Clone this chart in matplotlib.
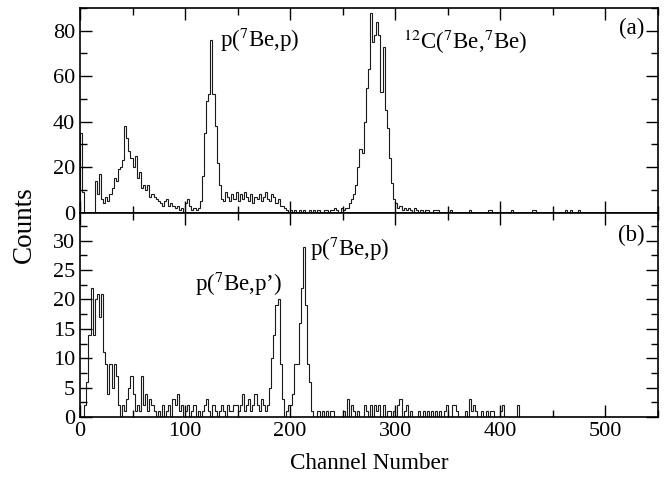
import numpy as np
import matplotlib.pyplot as plt
from matplotlib.ticker import MultipleLocator

plt.rcParams['font.family'] = ['Liberation Serif', 'DejaVu Serif']
plt.rcParams['mathtext.fontset'] = 'stix'

# channel bins are 2 channels wide, spectra go out to channel 550
bin_width = 2
n_bins = 275

# (a) dense part, channels 0-329
counts_a_low = [
    35, 9, 0, 0, 0,   0, 0, 14, 8, 17,
    6, 4, 7, 5, 8,    11, 15, 14, 19, 20,
    23, 38, 33, 27, 24,   20, 25, 15, 18, 11,
    12, 10, 12, 7, 8,   7, 6, 5, 4, 3,
    5, 6, 3, 4, 3,    2, 3, 1, 2, 0,
    4, 6, 3, 1, 2,    1, 2, 5, 16, 35,
    49, 52, 76, 52, 38,   22, 12, 6, 5, 9,
    7, 5, 8, 6, 9,    5, 8, 6, 9, 7,
    5, 8, 4, 7, 6,    8, 5, 7, 9, 6,
    5, 8, 7, 4, 6,    3, 3, 2, 1, 0,
    1, 0, 1, 0, 1,    0, 1, 0, 0, 1,
    0, 1, 0, 1, 0,    0, 1, 1, 0, 1,
    1, 2, 1, 0, 2,    1, 2, 2, 4, 6,
    8, 12, 20, 28, 26,   40, 55, 63, 88, 75,
    78, 84, 78, 53, 73,   45, 37, 24, 13, 6,
    4, 2, 3, 1, 2,    1, 2, 1, 0, 2,
    1, 0, 1, 0, 1,
]
# (a) sparse tail
tail_a_chan = [330, 336, 338, 340, 352, 370, 388, 390, 410, 430, 432, 462, 466, 474]
tail_a_cnt = [1, 1, 1, 1, 1, 1, 1, 1, 1, 1, 1, 1, 1, 1]

# (b) dense part, channels 0-239
counts_b_low = [
    0, 0, 2, 6, 14,   22, 14, 20, 21, 17,
    21, 11, 9, 4, 9,   5, 9, 7, 2, 0,
    2, 1, 3, 5, 7,    4, 1, 2, 1, 7,
    2, 4, 1, 3, 2,    1, 0, 1, 0, 2,
    0, 1, 2, 0, 3,    2, 4, 1, 2, 0,
    1, 2, 0, 1, 2,    0, 1, 0, 1, 2,
    3, 1, 0, 2, 1,    0, 1, 2, 1, 0,
    2, 1, 1, 2, 2,    1, 2, 4, 1, 2,
    3, 1, 2, 4, 2,    1, 3, 2, 1, 2,
    5, 10, 14, 19, 20,   9, 3, 0, 1, 2,
    2, 4, 9, 9, 16,   22, 29, 19, 9, 6,
    1, 0, 0, 1, 0,    1, 0, 1, 0, 1,
]
# (b) sparse tail
tail_b_chan = [240, 250, 254, 258, 260, 264, 270, 272, 276, 280, 282, 284, 288, 292,
               294, 298, 302, 304, 308, 310, 314, 322, 326, 330, 334, 338, 342, 346,
               348, 354, 356, 358, 366, 370, 372, 374, 376, 382, 386, 390, 392, 400,
               402, 416]
tail_b_cnt = [1, 1, 3, 2, 1, 1, 2, 1, 2, 2, 1, 2, 2, 1,
              1, 1, 2, 3, 1, 2, 1, 1, 1, 1, 1, 1, 1, 1,
              2, 2, 2, 1, 1, 3, 1, 2, 1, 1, 1, 1, 1, 1,
              2, 2]


def build(low, tail_chan, tail_cnt):
    h = np.zeros(n_bins)
    h[:len(low)] = low
    for c, n in zip(tail_chan, tail_cnt):
        h[c // bin_width] = n
    return h


edges = np.arange(n_bins + 1) * bin_width
hist_a = build(counts_a_low, tail_a_chan, tail_a_cnt)
hist_b = build(counts_b_low, tail_b_chan, tail_b_cnt)

fig = plt.figure(figsize=(6.68, 4.83), dpi=100)
ax1 = fig.add_axes([0.1198, 0.560, 0.865, 0.4234])
ax2 = fig.add_axes([0.1198, 0.1366, 0.865, 0.4234])

line_col = '#1a1a1a'
ax1.stairs(hist_a, edges, color=line_col, lw=0.8)
ax2.stairs(hist_b, edges, color=line_col, lw=0.8)

for ax in (ax1, ax2):
    ax.set_xlim(0, 550)
    ax.xaxis.set_major_locator(MultipleLocator(100))
    ax.xaxis.set_minor_locator(MultipleLocator(50))
    ax.tick_params(which='both', direction='in', top=True, right=True,
                   labelsize=16, width=1.0)
    ax.tick_params(which='major', length=8.5)
    ax.tick_params(which='minor', length=5)
    for sp in ax.spines.values():
        sp.set_linewidth(1.2)

ax1.set_ylim(0, 90)
ax1.yaxis.set_major_locator(MultipleLocator(20))
ax1.yaxis.set_minor_locator(MultipleLocator(10))
ax1.tick_params(labelbottom=False)

ax2.set_ylim(0, 34.8)
ax2.yaxis.set_major_locator(MultipleLocator(5))
ax2.yaxis.set_minor_locator(MultipleLocator(2.5))

fs = 16.5
ax1.text(133, 76, 'p($^7$Be,p)', fontsize=fs, va='center', ha='left')
ax1.text(307, 75, '$^{12}$C($^7$Be,$^7$Be)', fontsize=fs, va='center', ha='left')
ax1.text(537, 81, '(a)', fontsize=fs, va='center', ha='right')
ax2.text(109, 22.6, 'p($^7$Be,p’)', fontsize=fs, va='center', ha='left')
ax2.text(219, 28.6, 'p($^7$Be,p)', fontsize=fs, va='center', ha='left')
ax2.text(537, 30.9, '(b)', fontsize=fs, va='center', ha='right')

fig.text(0.037, 0.534, 'Counts', rotation=90, fontsize=19.5, va='center', ha='center')
fig.text(0.553, 0.041, 'Channel Number', fontsize=16.7, va='center', ha='center')

fig.savefig('out.png', dpi=100)
